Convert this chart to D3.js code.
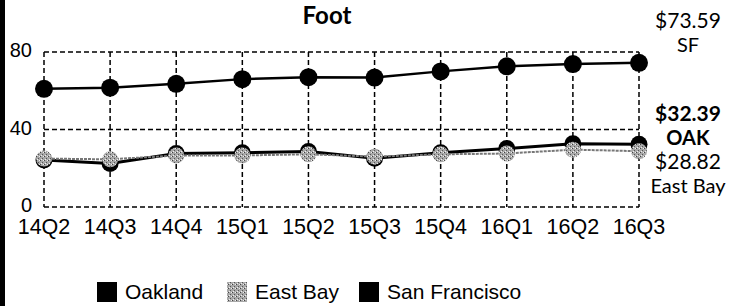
<!DOCTYPE html>
<html><head><meta charset="utf-8">
<script src="https://cdn.jsdelivr.net/npm/d3@7"></script>
<style>
html,body{margin:0;padding:0;background:#fff;}
svg{display:block;}
</style></head>
<body>
<svg id="c" width="734" height="306"></svg>
<script>
const categories = ["14Q2","14Q3","14Q4","15Q1","15Q2","15Q3","15Q4","16Q1","16Q2","16Q3"];
const oakland = [24.3, 22.4, 27.6, 28.0, 28.6, 25.2, 28.0, 30.2, 32.6, 32.39];
const eastBay = [25.0, 24.6, 26.6, 26.6, 27.2, 26.0, 27.2, 27.6, 29.6, 28.82];
const sanFrancisco = [61.0, 61.6, 63.6, 66.0, 67.0, 66.8, 70.0, 72.6, 73.8, 74.4];
const yTicks = [0, 40, 80];
const seriesNames = ["Oakland", "East Bay", "San Francisco"];
const endLabels = [
  {top:"$73.59", bottom:"SF", bold:false},
  {top:"$32.39", bottom:"OAK", bold:true},
  {top:"$28.82", bottom:"East Bay", bold:false}
];
const title = "Foot";

const svg = d3.select("#c");
const defs = svg.append("defs");
const pat = defs.append("pattern").attr("id","speck").attr("width",4).attr("height",4).attr("patternUnits","userSpaceOnUse");
pat.append("rect").attr("width",4).attr("height",4).attr("fill","#a8a8a8");
pat.append("rect").attr("x",0).attr("y",0).attr("width",1).attr("height",1).attr("fill","#444");
pat.append("rect").attr("x",2).attr("y",2).attr("width",1).attr("height",1).attr("fill","#555");
pat.append("rect").attr("x",3).attr("y",0).attr("width",1).attr("height",1).attr("fill","#eee");
pat.append("rect").attr("x",1).attr("y",3).attr("width",1).attr("height",1).attr("fill","#eee");

svg.append("rect").attr("x",0).attr("y",0).attr("width",5).attr("height",306).attr("fill","#000");

const x = d3.scalePoint().domain(categories).range([44, 639]);
const y = d3.scaleLinear().domain([0, 80]).range([207, 52]);

// grid
const grid = svg.append("g").attr("stroke","#000").attr("stroke-width",1.5).attr("stroke-dasharray","5,3").attr("fill","none");
grid.selectAll("line.h").data(yTicks).join("line")
  .attr("x1", x.range()[0]).attr("x2", x.range()[1])
  .attr("y1", d=>y(d)).attr("y2", d=>y(d));
grid.selectAll("line.v").data(categories).join("line")
  .attr("x1", d=>x(d)).attr("x2", d=>x(d))
  .attr("y1", y(80)).attr("y2", y(0));

// y tick labels
svg.append("g").selectAll("text").data(yTicks).join("text")
  .attr("x", 32).attr("y", d=>y(d)+5).attr("text-anchor","end")
  .attr("font-family","Liberation Sans, Arial, sans-serif").attr("font-size",20).attr("fill","#000")
  .text(d=>d);

// x tick labels
svg.append("g").selectAll("text").data(categories).join("text")
  .attr("x", d=>x(d)).attr("y", 234).attr("text-anchor","middle")
  .attr("font-family","Liberation Sans, Arial, sans-serif").attr("font-size",21.5).attr("fill","#000")
  .text(d=>d);

const line = d3.line().x((d,i)=>x(categories[i])).y(d=>y(d));

// SF
svg.append("path").datum(sanFrancisco).attr("d",line).attr("fill","none").attr("stroke","#000").attr("stroke-width",2.5);
svg.append("g").selectAll("circle").data(sanFrancisco).join("circle")
  .attr("cx",(d,i)=>x(categories[i])).attr("cy",d=>y(d)).attr("r",9).attr("fill","#000");

// Oakland
svg.append("path").datum(oakland).attr("d",line).attr("fill","none").attr("stroke","#000").attr("stroke-width",3);
svg.append("g").selectAll("circle").data(oakland).join("circle")
  .attr("cx",(d,i)=>x(categories[i])).attr("cy",d=>y(d)).attr("r",8.5).attr("fill","#000");

// East Bay
svg.append("path").datum(eastBay).attr("d",line).attr("fill","none").attr("stroke","#777").attr("stroke-width",2).attr("stroke-dasharray","3,1");
svg.append("g").selectAll("circle").data(eastBay).join("circle")
  .attr("cx",(d,i)=>x(categories[i])).attr("cy",d=>y(d)).attr("r",8).attr("fill","url(#speck)");

// title
svg.append("text").attr("x",327).attr("y",24).attr("text-anchor","middle")
  .attr("font-family","Lato, sans-serif").attr("font-weight","bold").attr("font-size",24).text(title);

// end labels
const endY = [[28,52],[121,145],[169,193]];
const eg = svg.append("g").attr("font-family","Lato, sans-serif").attr("font-size",20).attr("text-anchor","middle");
endLabels.forEach((l,i)=>{
  eg.append("text").attr("x",688).attr("y",endY[i][0]).attr("font-size",21).attr("font-weight",l.bold?"bold":"normal").text(l.top);
  eg.append("text").attr("x",688).attr("y",endY[i][1]).attr("font-weight",l.bold?"bold":"normal").text(l.bottom);
});

// legend
const legendFills = ["#000","url(#speck)","#000"];
const legendX = [97, 227, 359];
const lg = svg.append("g");
seriesNames.forEach((n,i)=>{
  lg.append("rect").attr("x",legendX[i]).attr("y",282).attr("width",20).attr("height",20).attr("fill",legendFills[i]);
  lg.append("text").attr("x",legendX[i]+28).attr("y",299).attr("font-family","Liberation Sans, Arial, sans-serif").attr("font-size",21).text(n);
});
</script>
</body></html>
